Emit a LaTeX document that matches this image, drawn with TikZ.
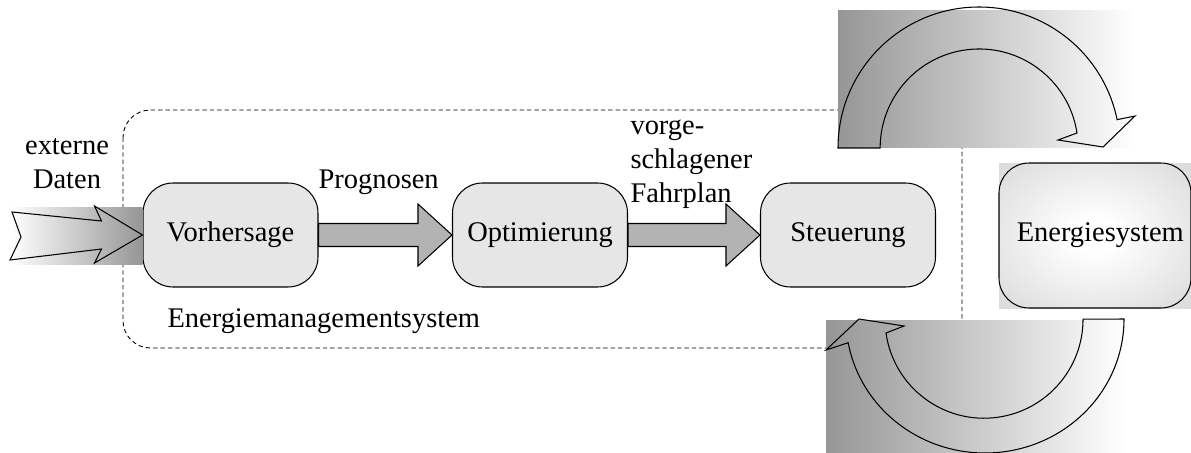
\documentclass[tikz,border=0pt]{standalone}
\usepackage{fontspec}
\setmainfont{Liberation Serif}
\usetikzlibrary{calc}
\definecolor{boxg}{RGB}{230,230,230}
\definecolor{arrg}{RGB}{179,179,179}
\definecolor{darkg}{RGB}{150,150,150}
\definecolor{esg}{RGB}{200,200,200}
\definecolor{esd}{RGB}{188,188,188}
\pgfdeclareradialshading{esysshade}{\pgfpoint{0bp}{0bp}}{color(0bp)=(white); color(6bp)=(white); color(50bp)=(esg); color(72bp)=(esd)}
\begin{document}
\begin{tikzpicture}[x=0.02cm,y=-0.02cm, line width=0.6pt,
  font=\fontsize{16.2}{19.3}\selectfont,
  stage/.style={draw, fill=boxg, rounded corners=0.6cm, minimum width=3.5cm, minimum height=2.08cm, inner sep=0pt},
  flow/.style={draw, fill=arrg, line join=miter},
  outl/.style={draw, line join=miter},
  frame/.style={draw, dash pattern=on 2.5pt off 1.7pt, line width=0.5pt, rounded corners=0.55cm},
  lbl/.style={inner sep=0pt}]
\useasboundingbox (0,0) rectangle (1191,453);

% dashed frame of the energy management system
\draw[frame] (123,110) rectangle (962,348);

% upper curved arrow
\shade[left color=darkg, right color=white] (838,10) rectangle (1135,147);
\draw[outl] (838,148) arc[start angle=180, end angle=348.4, radius=141]
  -- (1135,116) -- (1103,147) -- (1058,140) -- (1077,133)
  arc[start angle=351.3, end angle=180, radius=99] -- cycle;

% lower curved arrow
\shade[left color=darkg, right color=white] (826,320) rectangle (1125,453);
\draw[outl] (1124,319) arc[start angle=0, end angle=169.8, x radius=139, y radius=134]
  -- (826,350) -- (859,319) -- (904,326) -- (886,333)
  arc[start angle=172, end angle=0, radius=99] -- cycle;

% energy system
\shade[shading=esysshade] (999,163) rectangle (1191,308);

% stages
\node[stage] (vor) at (230.5,235) {Vorhersage};
\node[stage] (opt) at (540,235) {Optimierung};
\node[stage] (st) at (848,235) {Steuerung};
\node[draw, rounded corners=0.6cm, minimum width=3.84cm, minimum height=2.9cm, inner sep=0pt] (esys) at (1095,235.5) {\hspace{6pt}Energiesystem};

% external data arrow
\coordinate (ext) at (10,236);
\shade[left color=white, right color=darkg] ($(ext)+(0,-29)$) rectangle ($(vor.west)+(0,29)$);
\draw[outl] ($(ext)+(2,-24)$) -- ($(vor.west)+(-41,-14)$) -- ($(vor.west)+(-48,-29)$) -- (vor.west)
  -- ($(vor.west)+(-48,28)$) -- ($(vor.west)+(-41,14)$) -- ($(ext)+(0,24)$) -- ($(ext)+(11,1)$) -- cycle;

% block arrows
\draw[flow] ($(vor.east)+(0,-11.5)$) -- ($(opt.west)+(-34,-11.5)$) -- ($(opt.west)+(-34,-31)$) -- (opt.west)
  -- ($(opt.west)+(-34,31)$) -- ($(opt.west)+(-34,11.5)$) -- ($(vor.east)+(0,11.5)$) -- cycle;
\draw[flow] ($(opt.east)+(0,-11.5)$) -- ($(st.west)+(-34,-11.5)$) -- ($(st.west)+(-34,-31)$) -- (st.west)
  -- ($(st.west)+(-34,31)$) -- ($(st.west)+(-34,11.5)$) -- ($(opt.east)+(0,11.5)$) -- cycle;

% labels
\node[lbl, align=center, anchor=base] (extl) at (67,188) {externe\\Daten};
\node[lbl, anchor=base west] (prog) at (318,188) {Prognosen};
\node[lbl, align=left, anchor=base west] (fahr) at (630,202) {vorge-\\schlagener\\Fahrplan};
\node[lbl, anchor=base west] (ems) at (167,327) {Energiemanagementsystem};
\end{tikzpicture}
\end{document}
